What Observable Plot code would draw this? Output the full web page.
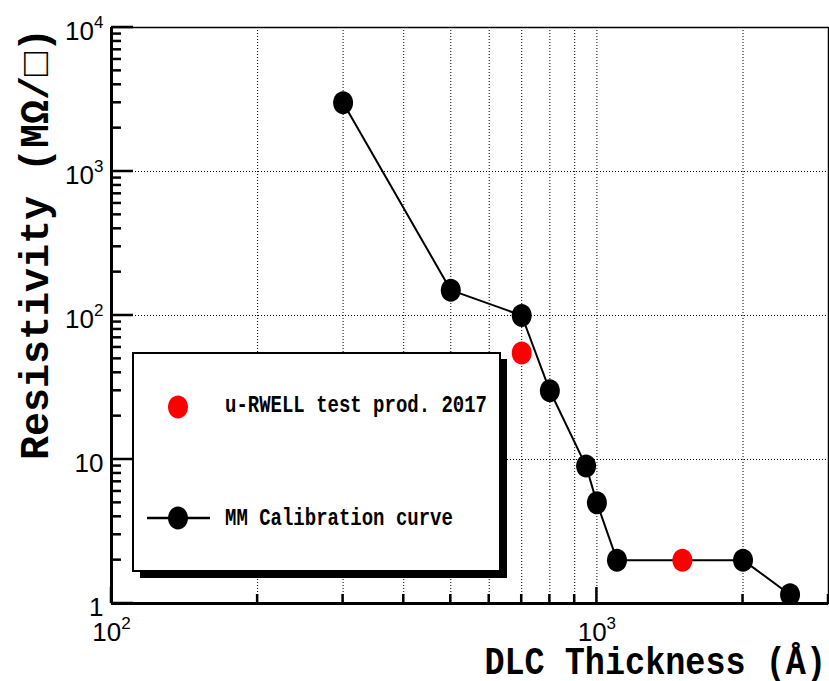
<!DOCTYPE html>
<html>
<head>
<meta charset="utf-8">
<script src="https://cdn.jsdelivr.net/npm/d3@7"></script>
<script src="https://cdn.jsdelivr.net/npm/@observablehq/plot@0.6"></script>
<style>
html, body { margin: 0; padding: 0; background: #fff; }
#chart { width: 829px; height: 681px; overflow: hidden; }
</style>
</head>
<body>
<div id="chart"></div>
<script>
// ---- data ----
const mmThickness = [300, 500, 700, 800, 950, 1000, 1100, 2000, 2500];
const mmResistivity = [3000, 150, 100, 30, 9, 5, 2, 2, 1.15];
const rwThickness = [700, 1500];
const rwResistivity = [55, 2];

const xMajorTicks = [100, 1000];
const xMinorTicks = [200, 300, 400, 500, 600, 700, 800, 900, 2000, 3000];
const xGridValues = [200, 300, 400, 500, 600, 700, 800, 900, 1000, 2000];
const yMajorTicks = [1, 10, 100, 1000, 10000];
const yMinorTicks = [1, 10, 100, 1000].flatMap(d => [2, 3, 4, 5, 6, 7, 8, 9].map(k => k * d));
const yGridValues = [10, 100, 1000];

const xTitle = "DLC Thickness (Å)";
const yTitle = "Resistivity (MΩ/□)";
const legendLabels = ["u-RWELL test prod. 2017", "MM Calibration curve"];

const mm = mmThickness.map((x, i) => ({x, y: mmResistivity[i]}));
const rw = rwThickness.map((x, i) => ({x, y: rwResistivity[i]}));

// ellipse marker (ROOT markers are slightly taller than wide)
const ellipse = {
  draw(ctx, size) {
    const r = Math.sqrt(size / Math.PI), rx = r, ry = r * 1.15, k = 0.5523;
    ctx.moveTo(rx, 0);
    ctx.bezierCurveTo(rx, ry * k, rx * k, ry, 0, ry);
    ctx.bezierCurveTo(-rx * k, ry, -rx, ry * k, -rx, 0);
    ctx.bezierCurveTo(-rx, -ry * k, -rx * k, -ry, 0, -ry);
    ctx.bezierCurveTo(rx * k, -ry, rx, -ry * k, rx, 0);
    ctx.closePath();
  }
};

const W = 829, H = 681, mL = 111, mT = 27, mR = 1, mB = 78;

const fmt = d => d < 100 ? String(d) : "10^" + Math.round(Math.log10(d));
const grid = {stroke: "#000", strokeOpacity: 1, strokeWidth: 1, strokeDasharray: "1,2"};

const svg = Plot.plot({
  width: W,
  height: H,
  marginLeft: mL,
  marginTop: mT,
  marginRight: mR,
  marginBottom: mB,
  x: {type: "log", domain: [100, 3000]},
  y: {type: "log", domain: [1, 10000]},
  style: {background: "#fff", color: "#000"},
  marks: [
    Plot.gridX(xGridValues, grid),
    Plot.gridY(yGridValues, grid),
    Plot.line(mm, {x: "x", y: "y", stroke: "#000", strokeWidth: 2}),
    Plot.dot(rw, {x: "x", y: "y", r: 10, fill: "#ff0000", symbol: ellipse, clip: "frame"}),
    Plot.dot(mm, {x: "x", y: "y", r: 10, fill: "#000", symbol: ellipse, clip: "frame"}),
    Plot.frame({stroke: "#000", strokeWidth: 1.5}),
    Plot.ruleX([100], {stroke: "#000", strokeWidth: 3}),
    Plot.ruleY([1], {stroke: "#000", strokeWidth: 3}),
    // tick labels
    Plot.axisX(xMajorTicks, {anchor: "bottom", tickSize: 0, tickPadding: 19, tickFormat: fmt, label: null,
      fontSize: 26, fontFamily: "Liberation Sans, Arial, sans-serif"}),
    Plot.axisY(yMajorTicks, {anchor: "left", tickSize: 0, tickPadding: 8, tickFormat: fmt, label: null, dy: 4,
      fontSize: 26, fontFamily: "Liberation Sans, Arial, sans-serif"})
  ]
});

const s = d3.select(svg);
const xs = svg.scale("x"), ys = svg.scale("y");
const x0 = xs.apply(100), y0 = ys.apply(1);

// inward ticks (ROOT style), positioned with Plot's own scales, drawn as filled bars
const tg = s.append("g").attr("fill", "#000");
[[xMinorTicks, 9], [xMajorTicks, 16]].forEach(([vals, len]) => vals.forEach(v => {
  const px = xs.apply(v);
  tg.append("rect").attr("x", px - 1.25).attr("y", y0 - len).attr("width", 2.5).attr("height", len).attr("fill", "#000");
}));
[[yMinorTicks, 10], [yMajorTicks, 22]].forEach(([vals, len]) => vals.forEach(v => {
  const py = ys.apply(v);
  tg.append("rect").attr("x", x0).attr("y", py - 1.25).attr("width", len).attr("height", 2.5).attr("fill", "#000");
}));

// superscripts for tick labels
s.selectAll("text").each(function () {
  const t = this.textContent;
  const m = /^10\^(\d)$/.exec(t);
  if (m) {
    const el = d3.select(this);
    el.text("10");
    el.append("tspan").attr("font-size", "17px").attr("dy", "-0.72em").text(m[1]);
  }
});

const mono = "'Liberation Mono', 'Courier New', monospace";

// axis titles
s.append("text")
  .attr("transform", "translate(826,674) scale(1,1.14)")
  .attr("text-anchor", "end")
  .attr("font-family", mono).attr("font-weight", "bold").attr("font-size", 33.5)
  .attr("fill", "#000")
  .text(xTitle);

s.append("text")
  .attr("transform", "translate(48,28) rotate(-90)")
  .attr("text-anchor", "end")
  .attr("font-family", mono).attr("font-weight", "bold").attr("font-size", 40)
  .attr("fill", "#000")
  .text(yTitle);

// legend
const lg = s.append("g");
lg.append("rect").attr("x", 140).attr("y", 359).attr("width", 367).attr("height", 219).attr("fill", "#000");
lg.append("rect").attr("x", 133).attr("y", 353).attr("width", 367).attr("height", 218)
  .attr("fill", "#fff").attr("stroke", "#000").attr("stroke-width", 2);
lg.append("path").attr("transform", "translate(178,407)").attr("d", d3.symbol(ellipse, Math.PI * 100)()).attr("fill", "#ff0000");
lg.append("line").attr("x1", 147).attr("x2", 210).attr("y1", 518).attr("y2", 518).attr("stroke", "#000").attr("stroke-width", 2.5);
lg.append("path").attr("transform", "translate(178,518)").attr("d", d3.symbol(ellipse, Math.PI * 100)()).attr("fill", "#000");
[[412, legendLabels[0]], [525, legendLabels[1]]].forEach(([y, label]) => {
  lg.append("text")
    .attr("transform", `translate(225,${y}) scale(1,1.3)`)
    .attr("text-anchor", "start")
    .attr("font-family", mono).attr("font-weight", "bold").attr("font-size", 19)
    .attr("fill", "#000")
    .text(label);
});

document.getElementById("chart").appendChild(svg);
</script>
</body>
</html>
